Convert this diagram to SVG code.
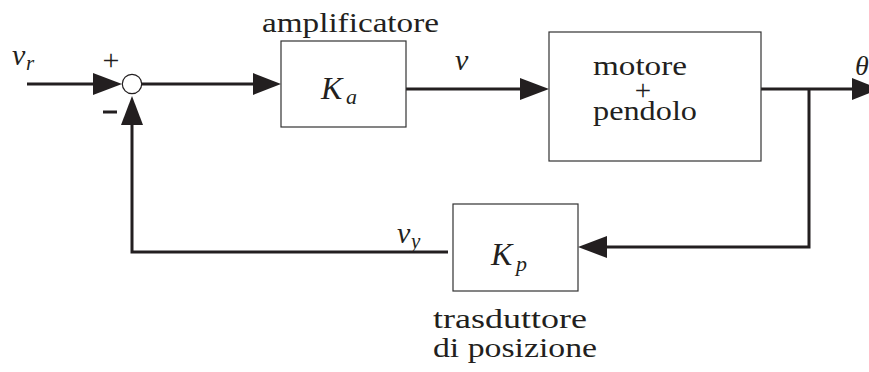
<svg xmlns="http://www.w3.org/2000/svg" width="869" height="372" viewBox="0 0 869 372">
<style>
.box{fill:#fff;stroke:#333;stroke-width:1.2}
.wire{fill:none;stroke:#231f20;stroke-width:3}
.head{fill:#231f20}
</style>
<rect width="869" height="372" fill="#fff"/>
<g id="connectors">
<line class="wire" x1="27" y1="84" x2="100" y2="84"/>
<polygon class="head" points="93,73 122,84 93,95"/>
<line class="wire" x1="141" y1="84" x2="260" y2="84"/>
<polygon class="head" points="253,73 281,84 253,95"/>
<line class="wire" x1="406" y1="89" x2="525" y2="89"/>
<polygon class="head" points="520,78 549,89 520,100"/>
<polyline class="wire" points="761,89 860,89"/>
<polygon class="head" points="852,78 880,89 852,100"/>
<polyline class="wire" points="809,89 809,247 600,247"/>
<polygon class="head" points="607,236 578,247 607,258"/>
<polyline class="wire" points="448,252 132,252 132,118"/>
<polygon class="head" points="121,125 132,96 143,125"/>
</g>
<g id="input-label" font-family="'Liberation Serif', serif" font-style="italic" fill="#231f20">
<text x="12" y="65" font-size="30">v</text>
<text x="26" y="70" font-size="21">r</text>
</g>
<g id="sum" font-family="'Liberation Serif', serif" fill="#231f20">
<circle cx="132" cy="84" r="9.7" fill="#fff" stroke="#231f20" stroke-width="1.2"/>
<text x="111" y="70" text-anchor="middle" font-size="30">+</text>
<rect x="103" y="110.5" width="14" height="3"/>
</g>
<g id="amplifier" font-family="'Liberation Serif', serif" fill="#231f20">
<rect class="box" x="281" y="41" width="125" height="86"/>
<text x="262" y="32" font-size="27" textLength="177" lengthAdjust="spacingAndGlyphs">amplificatore</text>
<text x="321" y="99" font-size="32" font-style="italic">K</text>
<text x="346" y="104" font-size="22" font-style="italic">a</text>
</g>
<g id="v-label" font-family="'Liberation Serif', serif" font-style="italic" fill="#231f20">
<text x="455" y="70" font-size="30">v</text>
</g>
<g id="motor" font-family="'Liberation Serif', serif" fill="#231f20">
<rect class="box" x="549" y="32" width="212" height="129"/>
<text font-size="27"><tspan x="593" y="75" textLength="94" lengthAdjust="spacingAndGlyphs">motore</tspan><tspan x="643" y="100" text-anchor="middle" font-size="29">+</tspan><tspan x="593" y="120" textLength="104" lengthAdjust="spacingAndGlyphs">pendolo</tspan></text>
</g>
<g id="theta-label" font-family="'Liberation Serif', serif" font-style="italic" fill="#231f20">
<text x="855" y="75" font-size="28">θ</text>
</g>
<g id="transducer" font-family="'Liberation Serif', serif" fill="#231f20">
<rect class="box" x="453" y="204" width="125" height="87"/>
<text x="491" y="265" font-size="32" font-style="italic">K</text>
<text x="516" y="271" font-size="22" font-style="italic">p</text>
<text x="433" y="328" font-size="27" textLength="154" lengthAdjust="spacingAndGlyphs">trasduttore</text>
<text x="433" y="357" font-size="27" textLength="164" lengthAdjust="spacingAndGlyphs">di posizione</text>
</g>
<g id="vy-label" font-family="'Liberation Serif', serif" font-style="italic" fill="#231f20">
<text x="397" y="243" font-size="30">v</text>
<text x="411" y="248" font-size="21">y</text>
</g>
</svg>
